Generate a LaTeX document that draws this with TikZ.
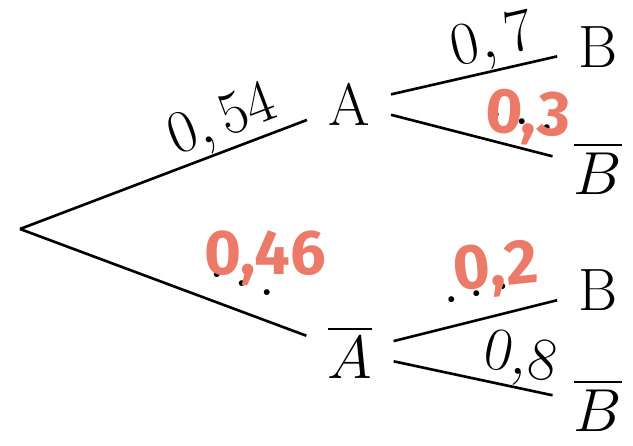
\documentclass[tikz,border=0pt]{standalone}
\usepackage{amsmath}
\usepackage{fontspec}
\usepackage{xcolor}
\newfontfamily\handfont{Fira Sans}
\definecolor{handred}{RGB}{236,122,104}

\begin{document}
\begin{tikzpicture}[x=0.01cm,y=-0.01cm,line width=0.75pt,
  font=\fontsize{17}{20}\selectfont,
  evt/.style={inner xsep=0.2cm,inner ysep=0.1cm},
  prob/.style={sloped,above,inner sep=0pt},
  gap/.style={sloped,above=0.22cm,inner sep=0pt},
  hand/.style={handred,font=\handfont\bfseries\fontsize{18}{20}\selectfont}]
  \useasboundingbox (0,0) rectangle (633,446);
  \coordinate (root) at (20,229);
  \node[evt] (A) at (349,104) {A};
  \node[evt] (Ab) at (350,352) {$\overline{A}$};
  \node[evt] (B1) at (598,47) {B};
  \node[evt] (Bb1) at (598,168) {$\overline{B}$};
  \node[evt] (B2) at (598,290) {B};
  \node[evt] (Bb2) at (598,405) {$\overline{B}$};
  \draw (root)--(A) node[prob,pos=0.74]{$0,54$};
  \draw (root)--(Ab) node[gap,pos=0.76]{$\dots$};
  \draw (A)--(B1) node[prob,pos=0.65]{$0,7$};
  \draw (A)--(Bb1) node[gap,pos=0.8]{$\dots$};
  \draw (Ab)--(B2) node[gap,pos=0.58]{$\dots$};
  \draw (Ab)--(Bb2) node[prob,pos=0.76]{$0{,}8$};
  \node[hand] (h46) at (265,258) {0,46};
  \node[hand,rotate=-4] (h3) at (528,118) {0,3};
  \node[hand,rotate=6] (h2) at (496,270) {0,2};
\end{tikzpicture}
\end{document}
